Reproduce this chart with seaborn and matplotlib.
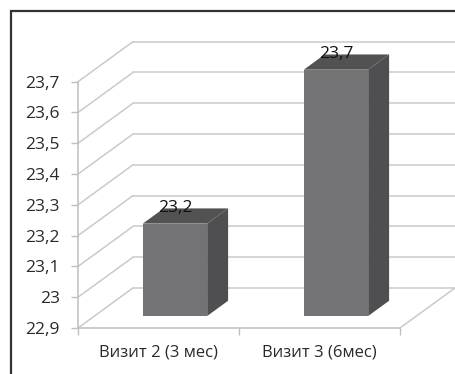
import matplotlib
matplotlib.use("Agg")
import matplotlib.pyplot as plt
import seaborn as sns
from matplotlib.patches import Polygon, Rectangle

categories = ["Визит 2 (3 мес)", "Визит 3 (6мес)"]
values = [23.2, 23.7]
y_ticks = [22.9, 23.0, 23.1, 23.2, 23.3, 23.4, 23.5, 23.6, 23.7]
y_tick_labels = ["22,9", "23", "23,1", "23,2", "23,3", "23,4", "23,5", "23,6", "23,7"]
value_labels = ["23,2", "23,7"]

sns.set_style("white")
plt.rcParams["font.family"] = ["Open Sans", "DejaVu Sans"]

W, H = 456, 374
fig = plt.figure(figsize=(W / 100, H / 100), dpi=100)
# axes = front plane of the 3d box, in pixel terms
ax = fig.add_axes([78 / W, (H - 328) / H, 322 / W, (328 - 81.7) / H])

front_col = "#737375"
side_col = "#4f4f51"
top_col = "#525253"
grid_col = "#cacaca"
text_col = "#2a2a2a"

sns.barplot(x=categories, y=values, ax=ax, width=0.4, color=front_col,
            saturation=1, edgecolor="none")

ymin, ymax = y_ticks[0], y_ticks[-1]
ax.set_xlim(-0.5, 1.5)
ax.set_ylim(ymin, ymax)

# depth of the box (category units / value units)
DX = 55 / 161
DY = 40 / 307.5
bar_start = 0.3   # bar sits at this fraction of depth
bar_depth = 0.38

# back wall gridlines + left diagonals
for t in y_ticks:
    ax.plot([-0.5, -0.5 + DX], [t, t + DY], color=grid_col, lw=1.1, clip_on=False, zorder=1)
    ax.plot([-0.5 + DX, 1.5 + DX], [t + DY, t + DY], color=grid_col, lw=1.1, clip_on=False, zorder=1)
# floor right edge
ax.plot([1.5, 1.5 + DX], [ymin, ymin + DY], color=grid_col, lw=1.1, clip_on=False, zorder=1)

# turn flat bars into boxes
for p, v, lab in zip(ax.patches, values, value_labels):
    x0 = p.get_x() + bar_start * DX
    w = p.get_width()
    b = ymin + bar_start * DY
    t = v + bar_start * DY
    p.set_x(x0)
    p.set_y(b)
    p.set_height(v - ymin)
    p.set_clip_on(False)
    p.set_zorder(3)
    x1 = x0 + w
    ddx = bar_depth * DX
    ddy = bar_depth * DY
    side = Polygon([(x1, b), (x1 + ddx, b + ddy), (x1 + ddx, t + ddy), (x1, t)],
                   closed=True, facecolor=side_col, edgecolor="none", clip_on=False, zorder=3)
    top = Polygon([(x0, t), (x0 + ddx, t + ddy), (x1 + ddx, t + ddy), (x1, t)],
                  closed=True, facecolor=top_col, edgecolor="none", clip_on=False, zorder=3)
    ax.add_patch(side)
    ax.add_patch(top)
    ax.text(x0 + w / 2, t + ddy, lab, ha="center", va="center", fontsize=12.5,
            color="#111111", zorder=5)

ax.set_yticks(y_ticks)
ax.set_yticklabels(y_tick_labels)
ax.set_xticks([0, 1])
ax.set_xticklabels(categories)
ax.set_xticks([-0.5, 0.5, 1.5], minor=True)
ax.tick_params(axis="y", left=True, length=5, width=1, color="#bfbfbf", pad=8,
               labelsize=12.5, labelcolor=text_col)
ax.tick_params(axis="x", which="major", length=0, pad=12, labelsize=12, labelcolor=text_col)
ax.tick_params(axis="x", which="minor", bottom=True, length=5, width=1, color="#bfbfbf")
ax.set_xlabel("")
ax.set_ylabel("")

for s in ["top", "right"]:
    ax.spines[s].set_visible(False)
for s in ["left", "bottom"]:
    ax.spines[s].set_color("#bfbfbf")
    ax.spines[s].set_linewidth(1.1)
ax.patch.set_alpha(0)

# outer frame (only left and top edges fall inside the picture)
fig.add_artist(Rectangle((11.5 / W, -0.5), 2, 1.5 - 10.5 / H, transform=fig.transFigure,
                         fill=False, edgecolor="#333333", lw=1.6))

fig.savefig("out.png", dpi=100)
